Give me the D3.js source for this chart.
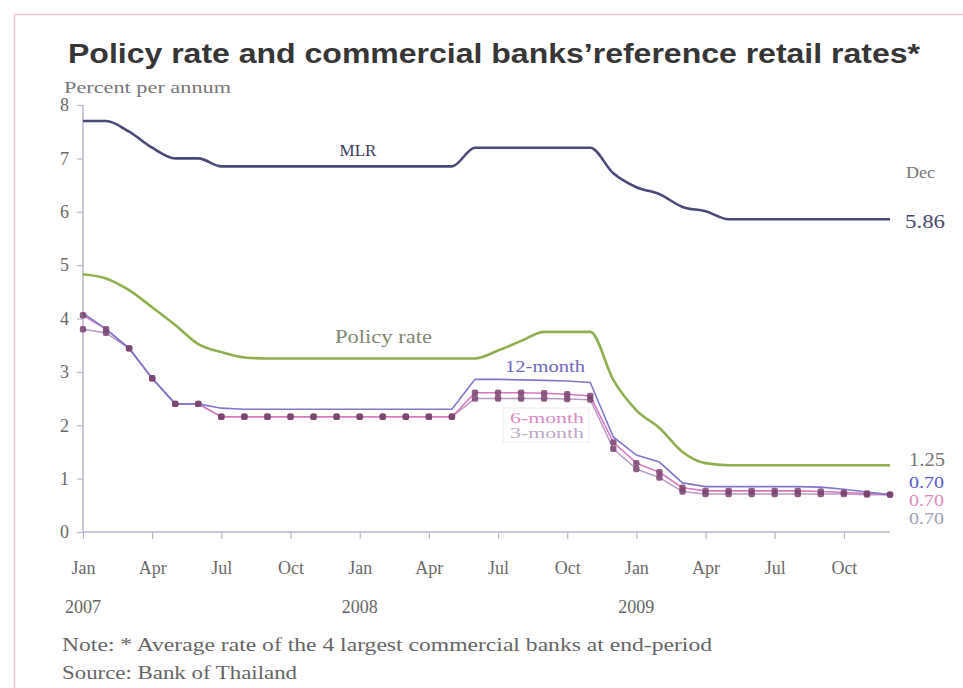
<!DOCTYPE html>
<html><head><meta charset="utf-8">
<script src="https://cdn.jsdelivr.net/npm/d3@7"></script>
<style>body{margin:0;background:#fff;}svg{display:block;}</style>
</head><body>
<svg id="c" width="963" height="688"></svg>
<script>
// ---- data (monthly, Jan 2007 – Dec 2009) ----
const months = d3.range(36);
const mlr = [7.70,7.70,7.50,7.20,7.00,7.00,6.85,6.85,6.85,6.85,6.85,6.85,
             6.85,6.85,6.85,6.85,6.85,7.20,7.20,7.20,7.20,7.20,7.20,6.72,
             6.46,6.33,6.09,6.01,5.86,5.86,5.86,5.86,5.86,5.86,5.86,5.86];
const policy = [4.83,4.75,4.53,4.21,3.88,3.52,3.37,3.27,3.25,3.25,3.25,3.25,
                3.25,3.25,3.25,3.25,3.25,3.25,3.40,3.58,3.75,3.75,3.75,2.85,
                2.28,1.95,1.50,1.29,1.25,1.25,1.25,1.25,1.25,1.25,1.25,1.25];
const m12 = [4.10,3.80,3.44,2.88,2.40,2.40,2.32,2.30,2.30,2.30,2.30,2.30,
             2.30,2.30,2.30,2.30,2.30,2.86,2.86,2.85,2.84,2.83,2.80,1.78,
             1.44,1.31,0.92,0.85,0.85,0.85,0.85,0.85,0.84,0.80,0.75,0.70];
const m6 = [4.06,3.80,3.44,2.88,2.40,2.40,2.16,2.16,2.16,2.16,2.16,2.16,
            2.16,2.16,2.16,2.16,2.16,2.61,2.61,2.61,2.60,2.58,2.55,1.68,
            1.29,1.12,0.83,0.77,0.77,0.77,0.77,0.77,0.76,0.74,0.72,0.70];
const m3 = [3.80,3.73,3.44,2.88,2.40,2.40,2.16,2.16,2.16,2.16,2.16,2.16,
            2.16,2.16,2.16,2.16,2.16,2.50,2.50,2.50,2.50,2.49,2.48,1.56,
            1.18,1.02,0.76,0.71,0.71,0.71,0.71,0.71,0.71,0.71,0.70,0.70];
const yTicks = [0,1,2,3,4,5,6,7,8];
const xTickMonths = [0,3,6,9,12,15,18,21,24,27,30,33];
const xTickLabels = ["Jan","Apr","Jul","Oct","Jan","Apr","Jul","Oct","Jan","Apr","Jul","Oct"];
const yearMonths = [0,12,24];
const yearLabels = ["2007","2008","2009"];

const svg = d3.select("#c");
const serif = "'Liberation Serif', 'DejaVu Serif', serif";

const x = d3.scaleLinear().domain([0,35]).range([83,890]);
const y = d3.scaleLinear().domain([0,8]).range([532,105]);

// frame
svg.append("rect").attr("x",14.5).attr("y",14.5).attr("width",960).attr("height",700)
  .attr("fill","none").attr("stroke","#ecc8d2").attr("stroke-width",1.5);

// title
svg.append("text").attr("x",68).attr("y",63)
  .attr("font-family","'Liberation Sans', Arial, sans-serif").attr("font-weight","bold")
  .attr("font-size",27).attr("fill","#363636")
  .attr("textLength",852).attr("lengthAdjust","spacingAndGlyphs")
  .text("Policy rate and commercial banks\u2019reference retail rates*");

svg.append("text").attr("x",64).attr("y",93).attr("font-family",serif)
  .attr("font-size",17).attr("fill","#777")
  .attr("textLength",167).attr("lengthAdjust","spacingAndGlyphs").text("Percent per annum");

// axes
const yAxis = svg.append("g").attr("transform","translate(83,0)")
  .call(d3.axisLeft(y).tickValues(yTicks).tickSize(6).tickPadding(8).tickFormat(d3.format("d")));
const xAxis = svg.append("g").attr("transform","translate(0,532)")
  .call(d3.axisBottom(x).tickValues(xTickMonths).tickSize(7).tickPadding(22)
    .tickFormat((d,i)=>xTickLabels[i]));
[yAxis,xAxis].forEach(g=>{
  g.select(".domain").attr("stroke","#b8b4cc").attr("stroke-width",1.5);
  g.selectAll(".tick line").attr("stroke","#b8b4cc").attr("stroke-width",1.2);
  g.selectAll("text").attr("font-family",serif).attr("font-size",18).attr("fill","#6a6a6a");
});
xAxis.select(".domain").attr("d","M83,0H890");
yAxis.select(".domain").attr("d","M0,105V532");

svg.append("g").selectAll("text").data(yearMonths).join("text")
  .attr("x",d=>x(d)).attr("y",613).attr("text-anchor","middle")
  .attr("font-family",serif).attr("font-size",18).attr("fill","#666")
  .text((d,i)=>yearLabels[i]);

svg.append("text").attr("x",62).attr("y",651).attr("font-family",serif)
  .attr("font-size",18).attr("fill","#666")
  .attr("textLength",650).attr("lengthAdjust","spacingAndGlyphs")
  .text("Note:  * Average rate of the 4 largest commercial banks at end-period");
svg.append("text").attr("x",62).attr("y",679).attr("font-family",serif)
  .attr("font-size",18).attr("fill","#666")
  .attr("textLength",235).attr("lengthAdjust","spacingAndGlyphs").text("Source: Bank of Thailand");

// lines
const lineSmooth = vals => d3.line().x((d,i)=>x(i)).y(d=>y(d)).curve(d3.curveMonotoneX)(vals);
const lineStraight = vals => d3.line().x((d,i)=>x(i)).y(d=>y(d))(vals);

svg.append("path").attr("d",lineSmooth(policy)).attr("fill","none")
  .attr("stroke","#8fb050").attr("stroke-width",2.6);
svg.append("path").attr("d",lineSmooth(mlr)).attr("fill","none")
  .attr("stroke","#4a4a78").attr("stroke-width",2.6);
svg.append("path").attr("d",lineStraight(m3)).attr("fill","none")
  .attr("stroke","#b89cc4").attr("stroke-width",1.5);
svg.append("path").attr("d",lineStraight(m6)).attr("fill","none")
  .attr("stroke","#d878c0").attr("stroke-width",1.6);
svg.append("path").attr("d",lineStraight(m12)).attr("fill","none")
  .attr("stroke","#7f78cc").attr("stroke-width",1.6);

[m3,m6].forEach(vals=>{
  svg.append("g").selectAll("rect").data(vals).join("rect")
    .attr("x",(d,i)=>x(i)-3.2).attr("y",d=>y(d)-3.2).attr("width",6.4).attr("height",6.4)
    .attr("rx",2).attr("fill","#7a4470").attr("opacity",0.85);
});

// in-chart labels
function lab(t,xx,yy,col,size,anchor,len){
  const s = svg.append("text").attr("x",xx).attr("y",yy).attr("font-family",serif)
    .attr("font-size",size).attr("fill",col).attr("text-anchor",anchor||"middle").text(t);
  if (len) s.attr("textLength",len).attr("lengthAdjust","spacingAndGlyphs");
}
lab("MLR",358,156,"#3c3c60",17);
lab("Policy rate",335,343,"#808a70",18,"start",97);
lab("12-month",505,372,"#6f68b8",16,"start",80);
svg.append("rect").attr("x",503).attr("y",408).attr("width",86).attr("height",34)
  .attr("fill","#fff").attr("stroke","#ececec");
lab("6-month",510,423,"#d88cc4",15,"start",74);
lab("3-month",510,438,"#c0a8c8",15,"start",74);

lab("Dec",906,178,"#777",16,"start",29);
lab("5.86",905,228,"#4a4a70",18,"start",40);
lab("1.25",909,466,"#777",18,"start",36);
lab("0.70",909,488,"#5a5ac8",16,"start",35);
lab("0.70",909,506,"#d88cbc",16,"start",35);
lab("0.70",909,524,"#a0a0b4",16,"start",35);
</script>
</body></html>
